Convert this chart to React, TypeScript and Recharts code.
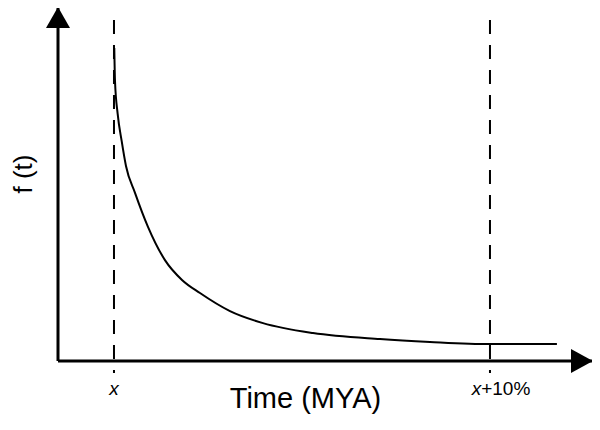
import React from "react";
import {
  LineChart,
  Line,
  XAxis,
  YAxis,
  ReferenceLine,
  ReferenceDot,
  Label,
} from "recharts";

// Time offsets (in units of 1% beyond x)
const times = [
  0.008, 0.027, 0.098, 0.205, 0.319, 0.559, 0.904, 1.356, 1.809, 2.287, 3.085,
  3.963, 5.293, 7.074, 8.404, 10, 11.78,
];
// f(t), arbitrary units
const fValues = [
  88.4, 79.1, 69.8, 62.1, 55.1, 47.5, 37.9, 28.5, 22.9, 19.2, 14.1, 10.7, 7.9,
  6.2, 5.4, 4.8, 4.8,
];
const tickValues = [0, 10];
const tickLabels = ["", "+10%"];
const markerTimes = [0, 10];

const X_DOMAIN: [number, number] = [-1.489, 12.74];
const Y_DOMAIN: [number, number] = [0, 100];
const FONT = "'Liberation Sans', Arial, sans-serif";

const data = times.map((t, i) => ({ t, f: fValues[i] }));

// arrowheads drawn at the end of each axis
const RightArrow = ({ cx, cy }: any) => (
  <path d={`M${cx},${cy} L${cx - 22},${cy - 12} L${cx - 22},${cy + 12} Z`} fill="#000" />
);
const UpArrow = ({ cx, cy }: any) => (
  <path d={`M${cx},${cy} L${cx - 12},${cy + 21} L${cx + 12},${cy + 21} Z`} fill="#000" />
);

const XTick = ({ x, y, payload }: any) => {
  const suffix = tickLabels[tickValues.indexOf(payload.value)] ?? "";
  return (
    <text
      x={x}
      y={y + 26}
      dx={suffix ? 11 : 0}
      textAnchor="middle"
      fontSize={19}
      fontFamily={FONT}
      fill="#000"
    >
      <tspan fontStyle="italic">x</tspan>
      {suffix && <tspan>{suffix}</tspan>}
    </text>
  );
};

export default function App() {
  return (
    <div style={{ fontFamily: FONT }}>
      <LineChart
        width={600}
        height={430}
        data={data}
        margin={{ top: 7, right: 7, bottom: 0, left: 0 }}
        style={{ margin: "-8px" }}
      >
        <XAxis
          type="number"
          dataKey="t"
          domain={X_DOMAIN}
          ticks={tickValues}
          allowDataOverflow
          height={69}
          tickLine={false}
          axisLine={{ stroke: "#000", strokeWidth: 3 }}
          tick={<XTick />}
        >
          <Label
            content={({ viewBox }: any) => (
              <text
                x={viewBox.x + viewBox.width / 2 - 20}
                y={viewBox.y + 47}
                textAnchor="middle"
                fontSize={29}
                fontFamily={FONT}
                fill="#000"
              >
                Time (MYA)
              </text>
            )}
          />
        </XAxis>
        <YAxis
          type="number"
          domain={Y_DOMAIN}
          allowDataOverflow
          width={58}
          tick={false}
          tickLine={false}
          axisLine={{ stroke: "#000", strokeWidth: 3 }}
        >
          <Label
            content={({ viewBox }: any) => {
              const cx = viewBox.x + 23;
              const cy = viewBox.y + viewBox.height / 2 - 10;
              return (
                <text
                  x={cx}
                  y={cy}
                  transform={`rotate(-90 ${cx} ${cy})`}
                  textAnchor="middle"
                  dominantBaseline="central"
                  fontSize={26}
                  fontFamily={FONT}
                  fill="#000"
                >
                  f (t)
                </text>
              );
            }}
          />
        </YAxis>
        {markerTimes.map((m) => (
          <ReferenceLine
            key={m}
            segment={[
              { x: m, y: 96.3 },
              { x: m, y: -3.4 },
            ]}
            stroke="#000"
            strokeWidth={2}
            strokeDasharray="14 11"
            ifOverflow="visible"
          />
        ))}
        <ReferenceDot
          x={X_DOMAIN[1]}
          y={Y_DOMAIN[0]}
          ifOverflow="visible"
          shape={<RightArrow />}
        />
        <ReferenceDot
          x={X_DOMAIN[0]}
          y={Y_DOMAIN[1]}
          ifOverflow="visible"
          shape={<UpArrow />}
        />
        <Line
          type="monotone"
          dataKey="f"
          stroke="#000"
          strokeWidth={2}
          dot={false}
          activeDot={false}
          isAnimationActive={false}
        />
      </LineChart>
    </div>
  );
}
